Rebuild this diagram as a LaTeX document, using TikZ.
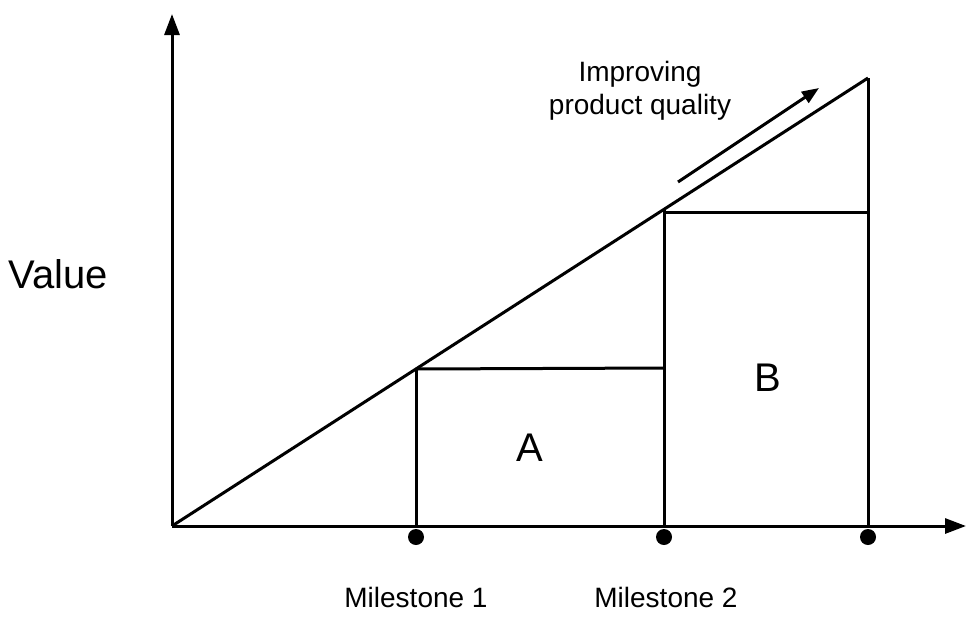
\documentclass[tikz,border=0pt]{standalone}
\usepackage{fontspec}
\setmainfont{Liberation Sans}
\usetikzlibrary{arrows.meta}
\begin{document}
\begin{tikzpicture}[x=1pt,y=-1pt,
  line/.style={line width=3pt, line cap=butt},
  axis/.style={line width=3pt, -{Triangle[length=21pt,width=15pt]}},
  dot/.style={circle, fill=black, inner sep=0pt, minimum size=16pt},
  lab/.style={font=\fontsize{28}{33}\selectfont, align=center, inner sep=0pt},
  big/.style={font=\fontsize{40}{46}\selectfont, inner sep=0pt}]
\useasboundingbox (0,0) rectangle (975,625);
\coordinate (O) at (172,526);
\coordinate (ytip) at (172,14);
\coordinate (xtip) at (966,526);
\coordinate (P1) at (416,369);
\coordinate (P2) at (664,210);
\coordinate (P3) at (868,78);
\coordinate (Q1) at (665,368);
\coordinate (Q2) at (869,212);
\coordinate (B1) at (416,526);
\coordinate (B2) at (664,526);
\coordinate (B3) at (868,526);
\coordinate (ar0) at (678,182);
\coordinate (ar1) at (819,88);
% axes
\draw[axis] (O) -- (ytip);
\draw[axis] (O) -- (xtip);
% diagonal
\draw[line] (O) -- (P3);
% verticals
\draw[line] (P1) -- (B1);
\draw[line] (P2) -- (B2);
\draw[line] (P3) -- (B3);
% horizontals
\draw[line] (P1) -- (Q1);
\draw[line] (P2 |- Q2) -- (Q2);
% dots
\node[dot] (d1) at (416,537) {};
\node[dot] (d2) at (664,537) {};
\node[dot] (d3) at (868,537) {};
% arrow
\draw[line width=3pt, -{Triangle[length=17pt,width=13pt]}] (ar0) -- (ar1);
% labels
\node[big] (value) at (58,274) {Value};
\node[big] (A) at (530,448) {A};
\node[big] (B) at (768,378) {B};
\node[lab] (m1) at (416,597) {Milestone 1};
\node[lab] (m2) at (666,597) {Milestone 2};
\node[lab] (impr) at (640,91) {Improving\\product quality};
\end{tikzpicture}
\end{document}
